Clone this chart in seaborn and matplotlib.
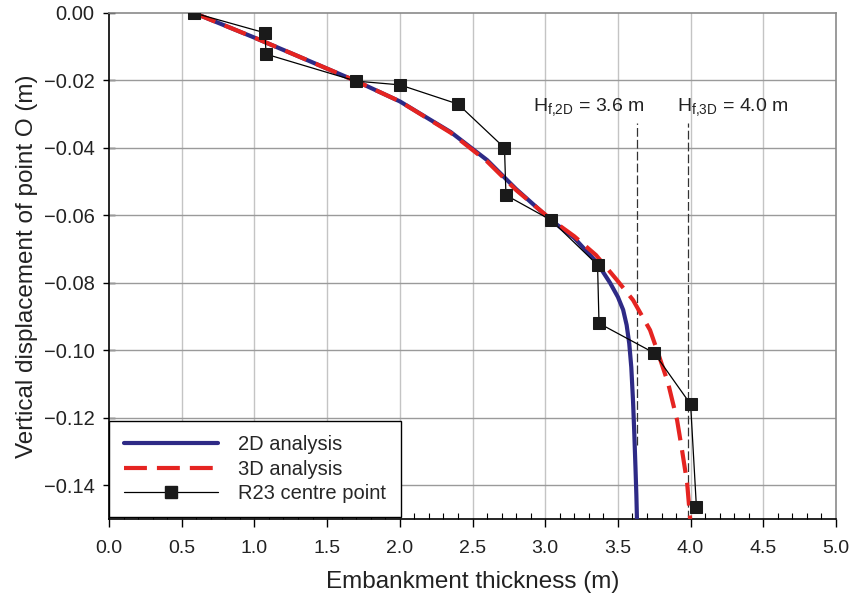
import matplotlib
matplotlib.use("Agg")
import matplotlib.pyplot as plt
import seaborn as sns
import pandas as pd
from matplotlib.ticker import MultipleLocator, FormatStrFormatter, FuncFormatter
from matplotlib.lines import Line2D

# 2D analysis curve (thickness m, displacement m)
x_2d = [0.585, 1.0, 1.3, 1.7, 2.0, 2.35, 2.6, 2.8, 3.04, 3.2, 3.356, 3.446, 3.50, 3.536,
        3.560, 3.578, 3.592, 3.604, 3.613, 3.621, 3.627, 3.631]
y_2d = [0.0, -0.0073, -0.0128, -0.0202, -0.0262, -0.0353, -0.0436, -0.0522, -0.0614,
        -0.0667, -0.0740, -0.0800, -0.0842, -0.0880, -0.0925, -0.0980, -0.1050, -0.1150,
        -0.1250, -0.1350, -0.1430, -0.150]

# 3D analysis curve
x_3d = [0.585, 1.0, 1.3, 1.7, 2.0, 2.35, 2.6, 2.8, 3.04, 3.2, 3.35, 3.494, 3.604, 3.721,
        3.776, 3.845, 3.907, 3.941, 3.976, 3.997]
y_3d = [0.0, -0.0073, -0.0128, -0.0202, -0.0262, -0.0355, -0.0440, -0.0525, -0.0612,
        -0.0662, -0.0718, -0.0792, -0.0851, -0.0940, -0.1008, -0.1097, -0.1207, -0.1296,
        -0.1393, -0.150]

# R23 centre point measurements
x_r23 = [0.585, 1.073, 1.08, 1.70, 2.00, 2.40, 2.72, 2.73, 3.04, 3.36, 3.37, 3.75, 4.00, 4.04]
y_r23 = [0.0, -0.0059, -0.0122, -0.0202, -0.0213, -0.0270, -0.0400, -0.0540, -0.0614,
         -0.0747, -0.0920, -0.1008, -0.1160, -0.1465]

# failure heights
hf_values = [3.63, 3.98]
hf_labels = ["H$_{f{,}2D}$ = 3.6 m", "H$_{f{,}3D}$ = 4.0 m"]

sns.set_theme(style="white")
plt.rcParams["font.family"] = ["Liberation Sans", "DejaVu Sans"]
plt.rcParams["mathtext.default"] = "regular"
plt.rcParams["axes.unicode_minus"] = True

fig = plt.figure(figsize=(8.49, 6.07), dpi=100)
ax = fig.add_axes([0.1284, 0.1450, 0.8563, 0.8336])

blue = "#2e2a86"
red = "#e52421"
text_c = "#222222"

df2 = pd.DataFrame({"x": x_2d, "y": y_2d})
df3 = pd.DataFrame({"x": x_3d, "y": y_3d})
dfr = pd.DataFrame({"x": x_r23, "y": y_r23})

sns.lineplot(data=df2, x="x", y="y", sort=False, color=blue, lw=3.0, ax=ax, zorder=4)
sns.lineplot(data=df3, x="x", y="y", sort=False, color=red, lw=3.0, ax=ax, zorder=5)
ax.lines[-1].set_dashes((5.5, 2.4))
sns.lineplot(data=dfr, x="x", y="y", sort=False, color="black", lw=0.9, marker="s",
             markersize=8.5, markeredgecolor="#1a1a1a", markerfacecolor="#1a1a1a",
             ax=ax, zorder=6)

# failure height markers
ax.vlines(hf_values[0], -0.128, -0.0325, colors="#333333", lw=0.9,
          linestyles=(0, (7, 2.5)), zorder=3)
ax.vlines(hf_values[1], -0.15, -0.0325, colors="#333333", lw=0.9,
          linestyles=(0, (7, 2.5)), zorder=3)
ax.text(2.915, -0.0291, hf_labels[0], fontsize=14, color=text_c)
ax.text(3.905, -0.0291, hf_labels[1], fontsize=14, color=text_c)

ax.set_xlim(0, 5.0)
ax.set_ylim(-0.15, 0.0)

ax.xaxis.set_major_locator(MultipleLocator(0.5))
ax.xaxis.set_minor_locator(MultipleLocator(0.1))
ax.yaxis.set_major_locator(MultipleLocator(0.02))
ax.xaxis.set_major_formatter(FormatStrFormatter("%.1f"))
ax.yaxis.set_major_formatter(FuncFormatter(lambda v, p: f"{v:.2f}".replace("-", "\u2212")
                                           if abs(v) > 1e-9 else "0.00"))

ax.grid(False)
for xv in [0.5, 1.0, 1.5, 2.0, 2.5, 3.0, 3.5, 4.0, 4.5]:
    ax.axvline(xv, color="#c4c4c4", lw=1.0, zorder=1)
for yv in [-0.14, -0.12, -0.10, -0.08, -0.06, -0.04, -0.02]:
    ax.axhline(yv, color="#9a9a9a", lw=1.0, zorder=1)

for s in ["top", "right"]:
    ax.spines[s].set_color("#8a8a8a")
    ax.spines[s].set_linewidth(1.2)
for s in ["left", "bottom"]:
    ax.spines[s].set_color("black")
    ax.spines[s].set_linewidth(1.2)

ax.tick_params(axis="x", which="both", bottom=True, top=False)
ax.tick_params(axis="y", which="both", left=True, right=False)
ax.tick_params(axis="x", which="major", direction="out", length=6, width=1.0,
               labelsize=14, pad=9, colors="black", labelcolor=text_c)
ax.tick_params(axis="x", which="minor", direction="in", length=4.5, width=0.8, colors="black")
ax.tick_params(axis="y", which="major", direction="inout", length=9, width=1.0,
               labelsize=14.5, pad=6, colors="black", labelcolor=text_c)

ax.set_xlabel("Embankment thickness (m)", fontsize=17.5, labelpad=10, color=text_c)
ax.set_ylabel("Vertical displacement of point O (m)", fontsize=17.5, labelpad=4,
              color=text_c)

handles = [
    Line2D([], [], color=blue, lw=3.0),
    Line2D([], [], color=red, lw=3.0, dashes=(5.5, 2.4)),
    Line2D([], [], color="black", lw=0.9, marker="s", markersize=8.5,
           markerfacecolor="#1a1a1a", markeredgecolor="#1a1a1a"),
]
leg = ax.legend(handles, ["2D analysis", "3D analysis", "R23 centre point"],
                loc="lower left", bbox_to_anchor=(0.0, 0.003), borderaxespad=0.0,
                fontsize=14.5, frameon=True, fancybox=False, framealpha=1.0,
                edgecolor="black", handlelength=4.7, handletextpad=1.0,
                labelspacing=0.26, borderpad=0.72)
leg.get_frame().set_linewidth(1.0)
leg.set_zorder(10)

fig.savefig("out.png", dpi=100)
